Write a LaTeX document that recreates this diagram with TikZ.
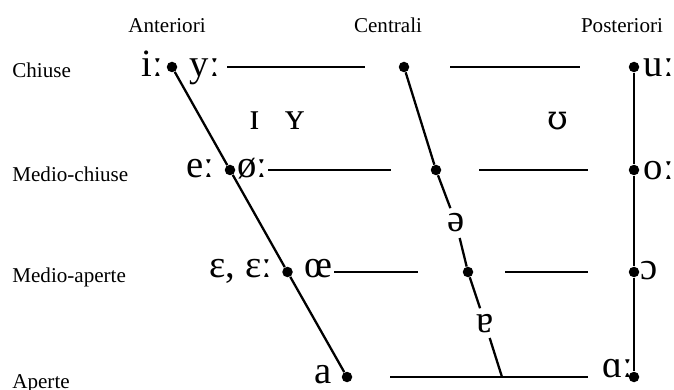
\documentclass[tikz,border=0pt]{standalone}
\usepackage{fontspec}
\setmainfont{Liberation Serif}
\newfontfamily\upsfont{DejaVu Serif}
\usepackage{tikz}
\usetikzlibrary{positioning}

\begin{document}
\begin{tikzpicture}[
  dot/.style={circle, fill=black, inner sep=0pt, minimum size=0.21cm},
  ipa/.style={font=\fontsize{22}{26}\selectfont, inner sep=1pt, anchor=base},
  gapipa/.style={ipa, inner sep=3pt},
  lab/.style={font=\fontsize{12}{14}\selectfont, inner sep=0pt, anchor=mid west},
  head/.style={font=\fontsize{12}{14}\selectfont, inner sep=0pt, anchor=mid},
  seg/.style={line width=1.3pt},
]
\useasboundingbox (0,0) rectangle (13.48,-7.80);

% Column headers
\node (anteriori) [head] at (3.34,-0.56) {Anteriori};
\node (centrali) [head] at (7.76,-0.56) {Centrali};
\node (posteriori) [head] at (12.44,-0.56) {Posteriori};

% Row labels
\node (chiuse) [lab] at (0.24,-1.46) {Chiuse};
\node (mediochiuse) [lab] at (0.24,-3.54) {Medio-chiuse};
\node (medioaperte) [lab] at (0.24,-5.56) {Medio-aperte};
\node (aperte) [lab] at (0.24,-7.68) {Aperte};

% Row 1: chiuse
\node (fc) [dot] at (3.44,-1.34) {};
\node (cc) [dot] at (8.08,-1.34) {};
\node (bc) [dot] at (12.68,-1.34) {};
\node (ilong) [ipa] at (3.05,-1.54) {iː};
\node (ylong) [ipa] at (4.10,-1.54) {yː};
\node (ulong) [ipa] at (13.18,-1.54) {uː};
\coordinate (r1a) at (4.54,-1.34);
\coordinate (r1b) at (7.30,-1.34);
\coordinate (r1c) at (9.00,-1.34);
\coordinate (r1d) at (11.60,-1.34);
\draw[seg] (r1a) -- (r1b);
\draw[seg] (r1c) -- (r1d);

% lax close vowels
\node (ismall) [ipa] at (5.10,-2.60) {ɪ};
\node (ysmall) [ipa] at (5.90,-2.60) {ʏ};
\node (usmall) [ipa] at (11.16,-2.60) {\upsfont\fontsize{19}{22}\selectfont ʊ};

% Row 2: medio-chiuse
\node (fcm) [dot] at (4.60,-3.40) {};
\node (ccm) [dot] at (8.72,-3.40) {};
\node (bcm) [dot] at (12.68,-3.40) {};
\node (elong) [ipa] at (4.00,-3.56) {eː};
\node (oslong) [ipa] at (5.05,-3.56) {øː};
\node (olong) [ipa] at (13.18,-3.60) {oː};
\coordinate (r2a) at (5.36,-3.40);
\coordinate (r2b) at (7.82,-3.40);
\coordinate (r2c) at (9.58,-3.40);
\coordinate (r2d) at (11.76,-3.40);
\draw[seg] (r2a) -- (r2b);
\draw[seg] (r2c) -- (r2d);

% schwa
\node (schwa) [gapipa] at (9.12,-4.64) {ə};

% Row 3: medio-aperte
\node (fom) [dot] at (5.75,-5.44) {};
\node (com) [dot] at (9.36,-5.44) {};
\node (bom) [dot] at (12.68,-5.44) {};
\node (eps) [ipa] at (4.82,-5.56) {ɛ, ɛː};
\node (oe) [ipa] at (6.36,-5.56) {œ};
\node (openo) [ipa] at (12.98,-5.60) {ɔ};
\coordinate (r3a) at (6.68,-5.44);
\coordinate (r3b) at (8.36,-5.44);
\coordinate (r3c) at (10.10,-5.44);
\coordinate (r3d) at (11.76,-5.44);
\draw[seg] (r3a) -- (r3b);
\draw[seg] (r3c) -- (r3d);

% turned a
\node (turneda) [gapipa] at (9.70,-6.64) {ɐ};

% Row 4: aperte
\node (fo) [dot] at (6.94,-7.54) {};
\node (bo) [dot] at (12.68,-7.54) {};
\node (afront) [ipa] at (6.46,-7.66) {a};
\node (alongback) [ipa] at (12.36,-7.54) {ɑː};
\coordinate (r4a) at (7.80,-7.54);
\coordinate (r4b) at (11.76,-7.54);
\coordinate (cend) at (10.04,-7.54);
\draw[seg] (r4a) -- (r4b);

% Front line
\draw[seg] (fc) -- (fcm);
\draw[seg] (fcm) -- (fom);
\draw[seg] (fom) -- (fo);

% Central line
\draw[seg] (cc) -- (ccm);
\draw[seg] (ccm) -- (schwa);
\draw[seg] (schwa) -- (com);
\draw[seg] (com) -- (turneda);
\draw[seg] (turneda) -- (cend);

% Back line
\draw[seg] (bc) -- (bcm);
\draw[seg] (bcm) -- (bom);
\draw[seg] (bom) -- (bo);

\end{tikzpicture}
\end{document}
